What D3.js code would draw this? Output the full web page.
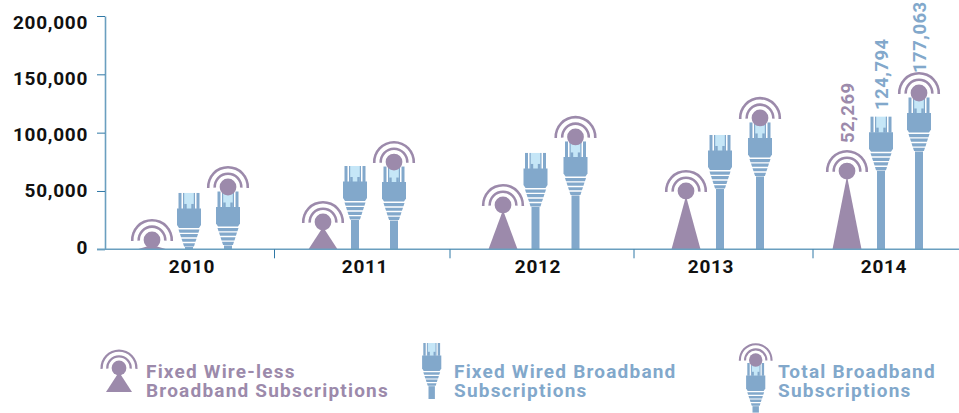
<!DOCTYPE html>
<html>
<head>
<meta charset="utf-8">
<script src="https://cdnjs.cloudflare.com/ajax/libs/d3/7.8.5/d3.min.js"></script>
<style>
	html, body { margin: 0; padding: 0; background: #fff; overflow: hidden; }
	svg { display: block; }
	text { font-family: "Roboto", sans-serif; font-weight: 700; }
</style>
</head>
<body>
<script>
var years = ['2010', '2011', '2012', '2013', '2014'];

// heights, the icons do not sit at their printed values
var wirelessValues = [8000, 23400, 38000, 50000, 67100];
var wiredValues = [48300, 71400, 82600, 98000, 113700];
var totalValues = [53400, 74800, 96300, 112600, 134000];

var yTicks = [0, 50000, 100000, 150000, 200000];
var dataLabels = ['52,269', '124,794', '177,063'];

var purple = '#9c8aab',
	blue = '#82a8cb',
	lightBlue = '#c5e6f7',
	axisColor = '#6a9fbf',
	tickColor = '#2f78a6';

var width = 959,
	height = 413;

var svg = d3.select('body').append('svg')
	.attr('width', width)
	.attr('height', height);

var y = d3.scaleLinear().domain([0, 200000]).range([249.3, 16]);

// the tick labels drift away from the ticks in the picture
var yLabel = d3.scalePoint().domain(yTicks).range([246.7, 21.7]);

// the groups are not evenly spaced in the picture
var groupX = d3.scaleOrdinal().domain(years).range([189, 355, 535.5, 720, 881]);
var wirelessShift = d3.scaleOrdinal().domain(years).range([-37, -32, -32.5, -34, -34]);
var totalShift = d3.scaleOrdinal().domain(years).range([39, 39, 40, 40, 38]);
var labelX = d3.scalePoint().domain(years).range([192, 884]);
var edgeX = d3.scaleOrdinal().domain([0, 1, 2, 3]).range([274.5, 450, 634, 813]);

svg.append('clipPath')
	.attr('id', 'plot-clip')
	.append('rect')
	.attr('x', 100)
	.attr('y', -20)
	.attr('width', 859)
	.attr('height', y(0) + 20);

// connector drawn from its top at 0,0, going down
function drawPlug(g, stalkEnd) {
	// stalk starts under the boot
	g.append('rect')
		.attr('x', -4)
		.attr('y', 54)
		.attr('width', 8)
		.attr('height', Math.max(stalkEnd - 54, 0))
		.attr('fill', blue);

	g.append('rect').attr('x', -5.5).attr('y', 0).attr('width', 11).attr('height', 16).attr('fill', lightBlue);
	[-10.5, 7.5].forEach(function(d) {
		g.append('rect').attr('x', d).attr('y', 0).attr('width', 3).attr('height', 16).attr('fill', blue);
	});
	[-6, 4.8].forEach(function(d) {
		g.append('rect').attr('x', d).attr('y', 0).attr('width', 1.2).attr('height', 16).attr('fill', blue);
	});
	[-4.8, 2.3].forEach(function(d) {
		g.append('rect').attr('x', d).attr('y', 11).attr('width', 2.5).attr('height', 5).attr('fill', blue);
	});

	g.append('path')
		.attr('d', 'M-12,15.5L12,15.5L12,32L10,35L-10,35L-12,32Z')
		.attr('fill', blue);

	[0, 1, 2, 3].forEach(function(i) {
		var top = 36.5 + i * 4.6,
			w0 = 10.5 - i * 1.5,
			w1 = 10.5 - (i + 0.7) * 1.5;
		g.append('path')
			.attr('d', 'M' + (-w0) + ',' + top + 'L' + w0 + ',' + top + 'L' + w1 + ',' + (top + 3.2) + 'L' + (-w1) + ',' + (top + 3.2) + 'Z')
			.attr('fill', blue);
	});
}

// signal circle and its two arcs, centred on 0,0
function drawSignal(g) {
	var arc = d3.arc().startAngle(-Math.PI / 2 - 0.05).endAngle(Math.PI / 2 + 0.05);
	[13.3, 19.8].forEach(function(r) {
		g.append('path')
			.attr('d', arc({ innerRadius: r - 1.3, outerRadius: r + 1.3 }))
			.attr('fill', purple);
	});
	g.append('circle').attr('r', 8.4).attr('fill', purple);
}

var plot = svg.append('g').attr('clip-path', 'url(#plot-clip)');

years.forEach(function(year, i) {
	var cx = groupX(year) + wirelessShift(year);
	var cy = y(wirelessValues[i]);

	plot.append('path')
		.attr('d', 'M' + cx + ',' + (cy + 5) + 'L' + (cx + 14.5) + ',' + y(0) + 'L' + (cx - 14.5) + ',' + y(0) + 'Z')
		.attr('fill', purple);
	drawSignal(plot.append('g').attr('transform', 'translate(' + cx + ',' + cy + ')'));

	var wired = plot.append('g')
		.attr('transform', 'translate(' + groupX(year) + ',' + y(wiredValues[i]) + ')');
	drawPlug(wired, y(0) - y(wiredValues[i]));

	var tx = groupX(year) + totalShift(year);
	var tcy = y(totalValues[i]);
	var total = plot.append('g').attr('transform', 'translate(' + tx + ',' + (tcy + 4.5) + ')');
	drawPlug(total, y(0) - tcy - 4.5);
	drawSignal(plot.append('g').attr('transform', 'translate(' + tx + ',' + tcy + ')'));
});

// axes
var yAxis = svg.append('g')
	.attr('transform', 'translate(105,0)')
	.call(d3.axisLeft(y).tickValues(yTicks).tickSize(8).tickSizeOuter(0).tickFormat(''));
yAxis.select('.domain').attr('stroke', axisColor).attr('stroke-width', 1.6);
yAxis.selectAll('.tick line').attr('stroke', tickColor);

svg.selectAll('.y-label')
	.data(yTicks)
	.enter().append('text')
	.attr('class', 'y-label')
	.attr('x', 88)
	.attr('y', function(d) { return yLabel(d); })
	.attr('dy', '0.36em')
	.attr('text-anchor', 'end')
	.attr('fill', '#111')
	.style('font-size', '19px')
	.style('letter-spacing', '0.7px')
	.text(function(d) { return d3.format(',')(d); });

var xAxis = svg.append('g').attr('transform', 'translate(0,' + y(0) + ')');
xAxis.append('line')
	.attr('x1', 97).attr('x2', width)
	.attr('stroke', axisColor).attr('stroke-width', 1.6);
xAxis.selectAll('.edge')
	.data([0, 1, 2, 3])
	.enter().append('line')
	.attr('class', 'edge')
	.attr('x1', function(d) { return edgeX(d); })
	.attr('x2', function(d) { return edgeX(d); })
	.attr('y1', 0).attr('y2', 9)
	.attr('stroke', tickColor);

svg.selectAll('.year')
	.data(years)
	.enter().append('text')
	.attr('class', 'year')
	.attr('x', function(d) { return labelX(d); })
	.attr('y', 273)
	.attr('text-anchor', 'middle')
	.attr('fill', '#111')
	.style('font-size', '19px')
	.style('letter-spacing', '0.7px')
	.text(function(d) { return d; });

// printed values, 2014 only
var lastYear = years[years.length - 1];
function addValue(x, bottom, text, color) {
	svg.append('text')
		.attr('transform', 'translate(' + x + ',' + bottom + ') rotate(-90)')
		.attr('fill', color)
		.style('font-size', '18.5px')
		.style('letter-spacing', '0.5px')
		.text(text);
}
addValue(groupX(lastYear) + wirelessShift(lastYear) + 7, 143, dataLabels[0], purple);
addValue(groupX(lastYear) + 7, 110, dataLabels[1], blue);
addValue(groupX(lastYear) + totalShift(lastYear) + 7, 73, dataLabels[2], blue);

// legend
var legendWireless = svg.append('g').attr('transform', 'translate(119,368)');
legendWireless.append('path').attr('d', 'M0,4L13,24L-13,24Z').attr('fill', purple);
drawSignal(legendWireless.append('g').attr('transform', 'scale(0.88)'));

var legendWired = svg.append('g').attr('transform', 'translate(431.7,343) scale(0.8)');
drawPlug(legendWired, 70);

var legendTotal = svg.append('g').attr('transform', 'translate(755.7,363) scale(0.8)');
drawPlug(legendTotal, 62);
drawSignal(svg.append('g').attr('transform', 'translate(755.7,360) scale(0.8)'));

function addLegendText(x, lines, color) {
	lines.forEach(function(line, i) {
		svg.append('text')
			.attr('x', x)
			.attr('y', 378 + i * 19)
			.attr('fill', color)
			.style('font-size', '19px')
			.style('letter-spacing', '1.2px')
			.text(line);
	});
}
addLegendText(146, ['Fixed Wire-less', 'Broadband Subscriptions'], purple);
addLegendText(454, ['Fixed Wired Broadband', 'Subscriptions'], blue);
addLegendText(778, ['Total Broadband', 'Subscriptions'], blue);
</script>
</body>
</html>
